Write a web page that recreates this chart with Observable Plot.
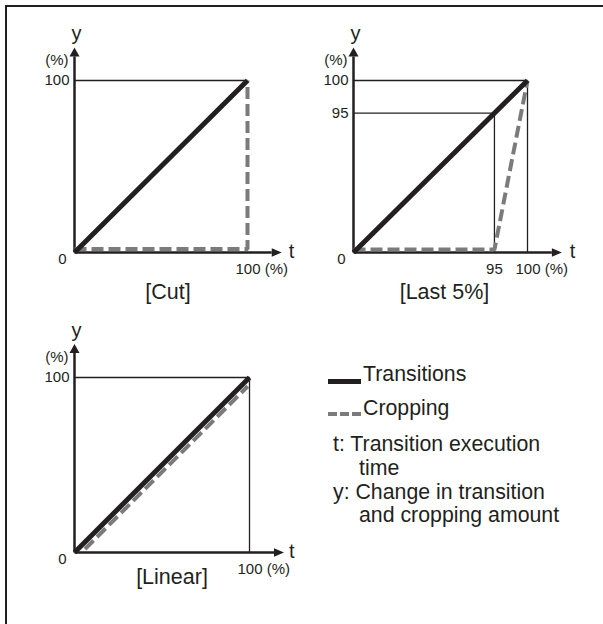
<!DOCTYPE html>
<html><head><meta charset="utf-8">
<script src="https://cdn.jsdelivr.net/npm/d3@7"></script>
<script src="https://cdn.jsdelivr.net/npm/@observablehq/plot@0.6"></script>
<style>
html,body{margin:0;padding:0;background:#fff;}
#page{position:relative;width:603px;height:624px;overflow:hidden;font-family:"Liberation Sans",Arial,Helvetica,sans-serif;color:#231f20;background:#fff;}
#frame{position:absolute;left:5px;top:5px;width:700px;height:700px;border-left:2px solid #231f20;border-top:2px solid #231f20;}
.panel{position:absolute;}
.panel svg{display:block;overflow:visible;}
.leg{position:absolute;font-size:21.3px;line-height:21.3px;white-space:nowrap;}
.swatch{position:absolute;}
</style></head><body><div id="page"><div id="frame"></div></div>
<script>
// ---- data ----
const titles = ["[Cut]", "[Last 5%]", "[Linear]"];
const transitionT = [0, 100];
const transitionY = [0, 100];
const cutCropT = [0, 100, 100];
const cutCropY = [2, 2, 100];
const last5CropT = [0, 95, 100];
const last5CropY = [2, 2, 100];
const linearCropT = [6, 99];
const linearCropY = [2, 95];
const cutXTicks = [100];
const cutYTicks = [100];
const last5XTicks = [95, 100];
const last5YTicks = [95, 100];
const linearXTicks = [100];
const linearYTicks = [100];
const originTick = [0];
// guide segments: [t1, y1, t2, y2]
const cutGuides = [[0, 100, 100, 100]];
const last5Guides = [[0, 100, 100, 100], [0, 95, 95, 95], [95, 0, 95, 95], [100, 0, 100, 100]];
const linearGuides = [[0, 100, 100, 100], [100, 0, 100, 100]];
const axisEnd = 114;
const unitLabel = "(%)";
const axisNames = ["t", "y"];
const legendLabels = ["Transitions", "Cropping"];
const noteLines = [["t: Transition execution", "time"], ["y: Change in transition", "and cropping amount"]];

// ---- styles ----
const INK = "#231f20", GRAY = "#7b7b7b";
const FONT = '"Liberation Sans", Arial, Helvetica, sans-serif';

// schematic (non-uniform) scale of the [Last 5%] panel: the last 5% is drawn enlarged
const last5Warp = d3.scaleLinear().domain([0, 95, 100, 200]).range([0, 81, 100, 200]);

const arrowUp = {draw(ctx, size) {
  const r = Math.sqrt(size / Math.PI);
  ctx.moveTo(-r, 0); ctx.lineTo(0, -1.8 * r); ctx.lineTo(r, 0); ctx.closePath();
}};
const arrowRight = {draw(ctx, size) {
  const r = Math.sqrt(size / Math.PI);
  ctx.moveTo(0, -0.85 * r); ctx.lineTo(2 * r, 0); ctx.lineTo(0, 0.85 * r); ctx.closePath();
}};

const page = document.getElementById("page");

function drawPanel(cfg) {
  const pts = (T, Y) => T.map((t, i) => ({t, y: Y[i]}));
  const segs = cfg.guides.map(([t1, y1, t2, y2]) => ({t1, y1, t2, y2}));
  const xLast = cfg.xTicks[cfg.xTicks.length - 1];
  const yLast = cfg.yTicks[cfg.yTicks.length - 1];
  const axes = [{t1: 0, y1: 0, t2: axisEnd, y2: 0}, {t1: 0, y1: 0, t2: 0, y2: axisEnd}];
  const zero = () => 0;
  const xOpts = {domain: [0, 100], axis: null};
  const yOpts = {domain: [0, 100], axis: null};
  if (cfg.warp) { xOpts.transform = cfg.warp; yOpts.transform = cfg.warp; }
  const chart = Plot.plot({
    width: cfg.width, height: cfg.height,
    marginLeft: cfg.ml, marginRight: cfg.mr, marginTop: cfg.mt, marginBottom: cfg.mb,
    x: xOpts,
    y: yOpts,
    style: {fontFamily: FONT, color: INK, background: "transparent", overflow: "visible"},
    marks: [
      Plot.link(segs, {x1: "t1", y1: "y1", x2: "t2", y2: "y2", stroke: INK, strokeWidth: 1.3}),
      Plot.link(axes, {x1: "t1", y1: "y1", x2: "t2", y2: "y2", stroke: INK, strokeWidth: 2.5}),
      Plot.dot([axisEnd], {x: d => d, y: zero, r: 5, symbol: arrowRight, fill: INK, stroke: "none"}),
      Plot.dot([axisEnd], {x: zero, y: d => d, r: 5, symbol: arrowUp, fill: INK, stroke: "none"}),
      Plot.line(pts(cfg.cropT, cfg.cropY), {x: "t", y: "y", stroke: GRAY, strokeWidth: 4,
        strokeDasharray: "12,5", strokeLinecap: "butt", strokeLinejoin: "miter"}),
      Plot.line(pts(transitionT, transitionY), {x: "t", y: "y", stroke: INK, strokeWidth: 5,
        strokeLinecap: "butt"}),
      // tick labels
      Plot.text(cfg.yTicks, {x: zero, y: d => d, text: d => String(d), textAnchor: "end",
        dx: -5, lineAnchor: "middle", fontSize: 15, fill: INK}),
      Plot.text(originTick, {x: zero, y: zero, text: d => String(d), textAnchor: "end",
        dx: -8, dy: 11, lineAnchor: "bottom", fontSize: 15, fill: INK}),
      Plot.text(cfg.xTicks.slice(0, -1), {x: d => d, y: zero, text: d => String(d),
        textAnchor: "middle", dy: 21, lineAnchor: "bottom", fontSize: 15, fill: INK}),
      Plot.text([xLast], {x: d => d, y: zero, text: d => `${d} ${unitLabel}`,
        textAnchor: "start", dx: -12, dy: 21, lineAnchor: "bottom", fontSize: 15, fill: INK}),
      Plot.text([unitLabel], {x: zero, y: () => yLast, textAnchor: "end", dx: -6, dy: -16,
        lineAnchor: "bottom", fontSize: 15, fill: INK}),
      // axis names
      Plot.text([axisNames[1]], {x: zero, y: () => axisEnd, textAnchor: "middle", dx: 2, dy: -16,
        lineAnchor: "bottom", fontSize: 20, fill: INK}),
      Plot.text([axisNames[0]], {x: () => axisEnd, y: zero, textAnchor: "start", dx: cfg.tDx, dy: 5,
        lineAnchor: "bottom", fontSize: 20, fill: INK}),
      // title
      Plot.text([cfg.title], {frameAnchor: "bottom", dx: cfg.titleDx, dy: cfg.titleDy,
        lineAnchor: "bottom", fontSize: 21.5, fill: INK})
    ]
  });
  const div = document.createElement("div");
  div.className = "panel";
  div.style.left = cfg.left + "px";
  div.style.top = cfg.top + "px";
  div.appendChild(chart);
  page.appendChild(div);
}

drawPanel({left: 0, top: 0, width: 300, height: 310, ml: 74, mr: 53, mt: 80, mb: 58,
  guides: cutGuides, cropT: cutCropT, cropY: cutCropY, xTicks: cutXTicks, yTicks: cutYTicks,
  title: titles[0], titleDx: 7, titleDy: 46, tDx: 17});

drawPanel({left: 300, top: 0, width: 303, height: 310, ml: 53, mr: 76, mt: 80, mb: 58,
  warp: last5Warp,
  guides: last5Guides, cropT: last5CropT, cropY: last5CropY, xTicks: last5XTicks, yTicks: last5YTicks,
  title: titles[1], titleDx: 4, titleDy: 46, tDx: 18});

drawPanel({left: 0, top: 300, width: 300, height: 324, ml: 74, mr: 51, mt: 77, mb: 72,
  guides: linearGuides, cropT: linearCropT, cropY: linearCropY, xTicks: linearXTicks, yTicks: linearYTicks,
  title: titles[2], titleDx: 10, titleDy: 31, tDx: 15});

// ---- legend (HTML) ----
function addDiv(cls, css, text) {
  const d = document.createElement("div");
  d.className = cls;
  Object.assign(d.style, css);
  if (text != null) d.textContent = text;
  page.appendChild(d);
  return d;
}
addDiv("swatch", {left: "328px", top: "379px", width: "33px", height: "4.5px", background: INK});
addDiv("swatch", {left: "328px", top: "412px", width: "33px", height: "4px",
  background: `repeating-linear-gradient(to right, ${GRAY} 0 9px, transparent 9px 12px)`});
const baseOff = 0.8465 * 21.3;
addDiv("leg", {left: "363px", top: (382 - baseOff) + "px"}, legendLabels[0]);
addDiv("leg", {left: "363px", top: (416 - baseOff) + "px"}, legendLabels[1]);
addDiv("leg", {left: "333px", top: (452 - baseOff) + "px"}, noteLines[0][0]);
addDiv("leg", {left: "359px", top: (476 - baseOff) + "px"}, noteLines[0][1]);
addDiv("leg", {left: "333px", top: (500 - baseOff) + "px"}, noteLines[1][0]);
addDiv("leg", {left: "359px", top: (523 - baseOff) + "px"}, noteLines[1][1]);
</script></body></html>
